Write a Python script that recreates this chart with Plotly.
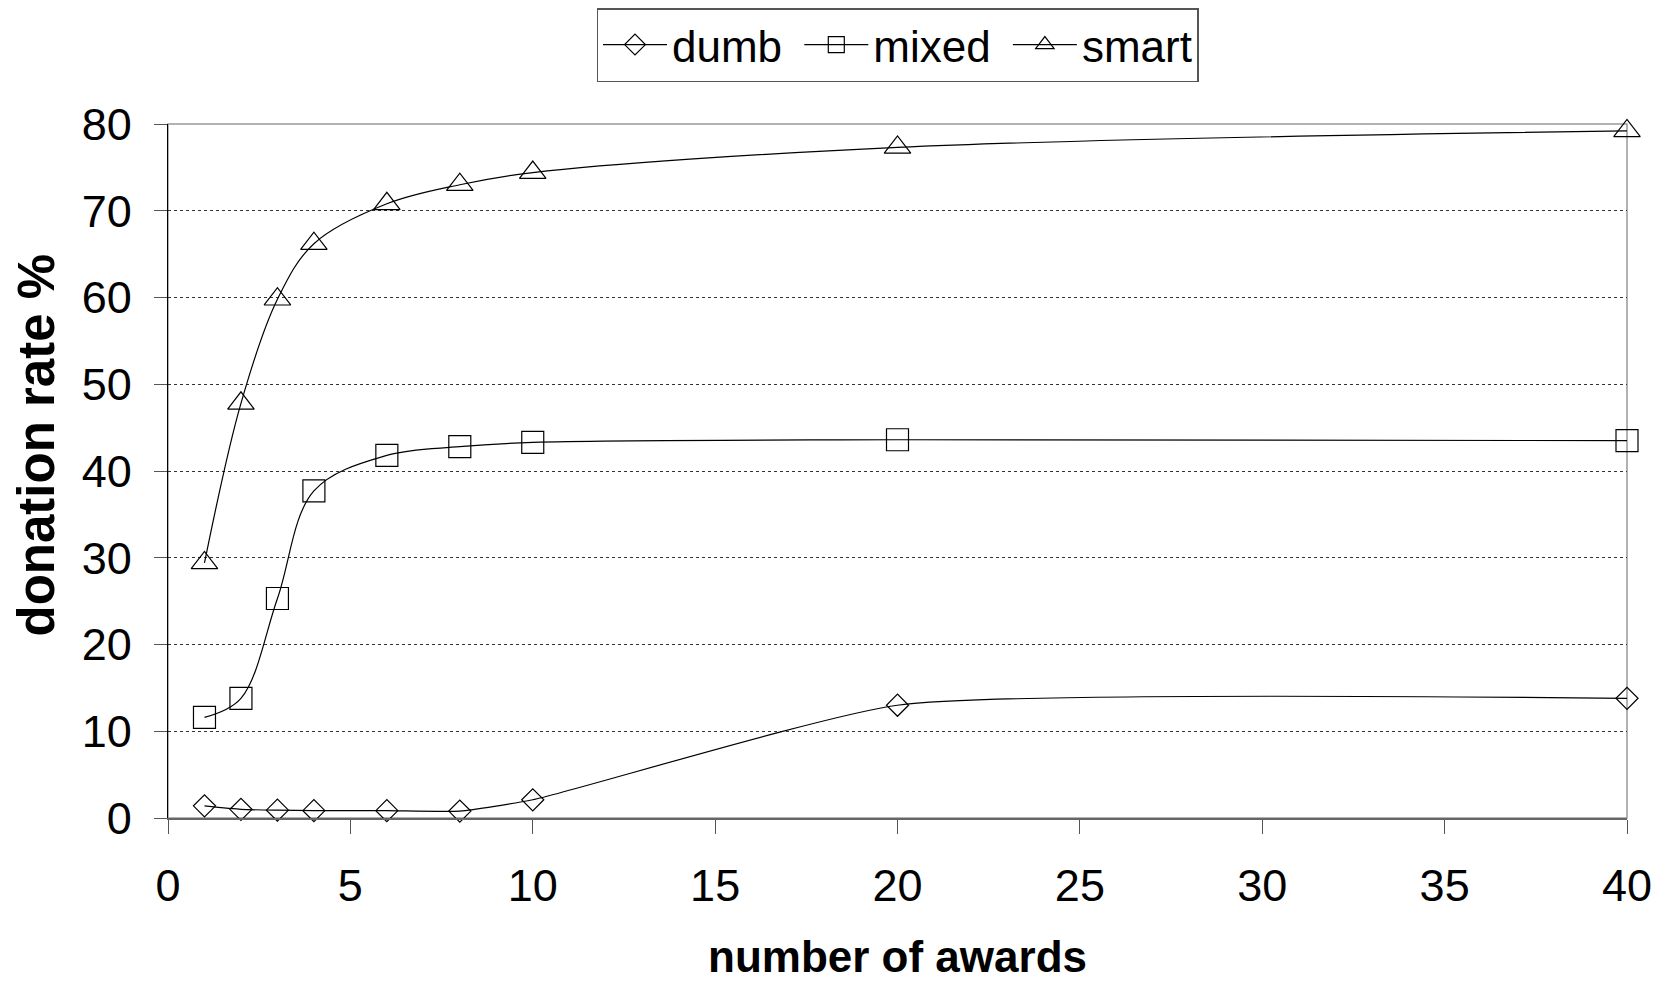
import plotly.graph_objects as go

awards = [1, 2, 3, 4, 6, 8, 10, 20, 40]
dumb = [1.4, 1.0, 0.9, 0.85, 0.85, 0.8, 2.1, 13.0, 13.8]
mixed = [11.6, 13.8, 25.3, 37.7, 41.8, 42.8, 43.3, 43.6, 43.5]
smart = [29.4, 47.8, 59.8, 66.2, 70.8, 73.0, 74.4, 77.3, 79.2]

series_names = ["dumb", "mixed", "smart"]
series_values = [dumb, mixed, smart]
symbols = ["diamond-open", "square-open", "triangle-up-open"]
sizes = [17, 22, 23]
smooth = [0.5, 1.0, 1.0]

FONT = "Liberation Sans, Arial, sans-serif"
NB = "\u00a0"
fig = go.Figure()
for name, vals, sym, sz, sm in zip(series_names, series_values, symbols, sizes, smooth):
    fig.add_trace(go.Scatter(
        x=awards, y=vals, name=name + (NB if name != "smart" else ""), mode="lines+markers",
        cliponaxis=False,
        line=dict(color="black", width=1.2, shape="spline", smoothing=sm),
        marker=dict(symbol=sym, size=sz, color="black", line=dict(width=1.2, color="black")),
    ))

L, R, T, B = 168, 39, 124, 163
PW, PH = 1666 - L - R, 981 - T - B
fig.update_layout(
    width=1666, height=981,
    margin=dict(l=L, r=R, t=T, b=B, autoexpand=False),
    paper_bgcolor="white", plot_bgcolor="white",
    font=dict(family=FONT, color="black", size=45),
    showlegend=True,
    legend=dict(orientation="h", x=0.5, xanchor="center", y=(818 - 8) / PH, yanchor="top",
                bordercolor="#555555", borderwidth=1.5, bgcolor="white",
                font=dict(size=44, family=FONT), itemwidth=64, tracegroupgap=0),
    shapes=[dict(type="rect", xref="paper", yref="paper", x0=0, x1=1, y0=0, y1=1,
                 line=dict(color="#999999", width=1.5), layer="below")],
    annotations=[dict(text="<b>donation rate %</b>", textangle=-90, showarrow=False,
                      xref="paper", yref="paper", x=(35.5 - L) / PW, y=(818 - 445) / PH,
                      xanchor="center", yanchor="middle", font=dict(size=51, family=FONT))],
)
fig.update_xaxes(
    range=[0, 40], tickvals=list(range(0, 45, 5)), showgrid=False, zeroline=False,
    showline=True, linecolor="#666666", linewidth=2,
    ticks="outside", ticklen=14, tickcolor="#555555", tickwidth=1,
    tickfont=dict(size=45), ticklabelstandoff=13,
    title=dict(text="<b>number of awards</b>", font=dict(size=44), standoff=38),
)
fig.update_yaxes(
    range=[0, 80], tickvals=list(range(0, 90, 10)), showgrid=True, gridcolor="#333333",
    griddash="dot", gridwidth=1, zeroline=False,
    showline=True, linecolor="black", linewidth=1.2,
    ticks="outside", ticklen=13, tickcolor="#555555", tickwidth=1,
    tickfont=dict(size=45), ticklabelstandoff=13,
)
fig.write_html("out.html")
